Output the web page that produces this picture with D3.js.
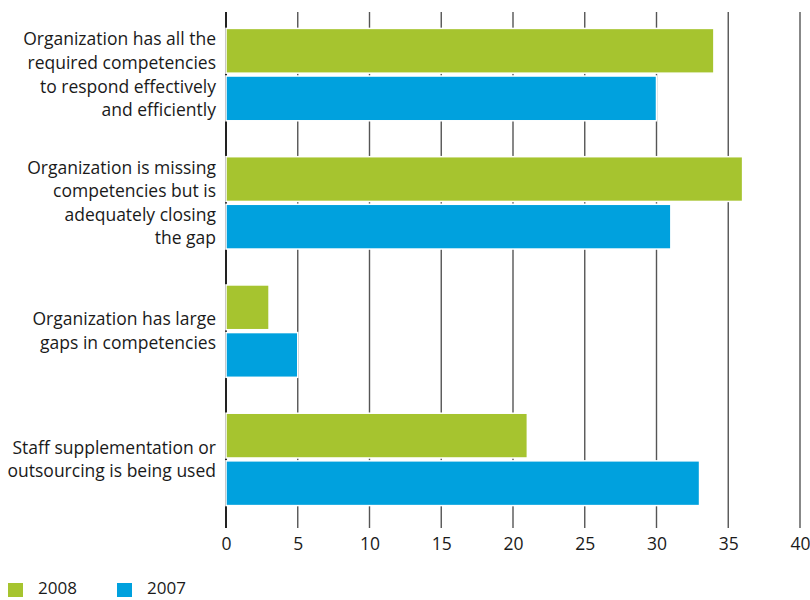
<!DOCTYPE html>
<html>
<head>
<meta charset="utf-8">
<script src="https://cdn.jsdelivr.net/npm/d3@7"></script>
<style>
  body { margin: 0; background: #fff; }
  svg text { font-family: "Open Sans", "Noto Sans", sans-serif; fill: #1a1a1a; }
</style>
</head>
<body>
<svg id="chart" width="810" height="600"></svg>
<script>
// Competency responses by year (percent)
const categories = [
  ["Organization has all the", "required competencies", "to respond effectively", "and efficiently"],
  ["Organization is missing", "competencies but is", "adequately closing", "the gap"],
  ["Organization has large", "gaps in competencies"],
  ["Staff supplementation or", "outsourcing is being used"]
];
const seriesNames = ["2008", "2007"];
const values2008 = [34, 36, 3, 21];
const values2007 = [30, 31, 5, 33];
const tickValues = [0, 5, 10, 15, 20, 25, 30, 35, 40];
const colors = ["#a6c42f", "#00a1de"];

const svg = d3.select("#chart");
const fontSize = "17.5px";

const x = d3.scaleLinear().domain([0, 40]).range([226, 800]);
const y0 = d3.scaleBand()
  .domain(d3.range(categories.length))
  .range([22, 512])
  .paddingInner(0.28)
  .paddingOuter(0.05);
const y1 = d3.scaleBand()
  .domain(seriesNames)
  .range([0, y0.bandwidth()])
  .paddingInner(0.06);

// vertical gridlines running down into the tick area
const axisBottom = 528;
svg.append("g")
  .selectAll("line")
  .data(tickValues)
  .join("line")
  .attr("x1", d => x(d)).attr("x2", d => x(d))
  .attr("y1", 12).attr("y2", axisBottom)
  .attr("stroke", d => d === 0 ? "#222" : "#555")
  .attr("stroke-width", d => d === 0 ? 2 : 1.4);

// bars
const rows = categories.map((c, i) => ({ i, vals: [values2008[i], values2007[i]] }));
const groups = svg.append("g")
  .selectAll("g")
  .data(rows)
  .join("g")
  .attr("transform", d => `translate(0,${y0(d.i)})`);

groups.selectAll("rect")
  .data(d => d.vals.map((v, k) => ({ v, k })))
  .join("rect")
  .attr("x", x(0))
  .attr("y", d => y1(seriesNames[d.k]))
  .attr("width", d => x(d.v) - x(0))
  .attr("height", y1.bandwidth())
  .attr("fill", d => colors[d.k])
  .attr("stroke", "#fff")
  .attr("stroke-width", 1.5);

// axis labels
const axis = d3.axisBottom(x).tickValues(tickValues).tickSize(0).tickPadding(0);
const ag = svg.append("g")
  .attr("transform", `translate(0,${axisBottom})`)
  .call(axis);
ag.select(".domain").remove();
ag.selectAll("text")
  .attr("dy", "0.71em")
  .attr("y", 10)
  .style("font-size", fontSize)
  .style("font-family", "'Open Sans', 'Noto Sans', sans-serif")
  .attr("fill", "#1a1a1a");

// category labels, right-aligned beside the bars
const lineH = 23.6;
svg.append("g")
  .selectAll("text")
  .data(categories)
  .join("text")
  .attr("text-anchor", "end")
  .attr("font-size", fontSize)
  .each(function (lines, i) {
    const cy = y0(i) + y0.bandwidth() / 2;
    const startY = cy - (lines.length - 1) * lineH / 2;
    d3.select(this).selectAll("tspan")
      .data(lines)
      .join("tspan")
      .attr("x", 216)
      .attr("y", (d, j) => startY + j * lineH)
      .attr("dy", "0.35em")
      .text(d => d);
  });

// legend
const legend = svg.append("g").attr("transform", "translate(8,583)");
const items = legend.selectAll("g")
  .data(seriesNames)
  .join("g")
  .attr("transform", (d, i) => `translate(${i * 109},0)`);
items.append("rect")
  .attr("width", 15).attr("height", 14)
  .attr("fill", (d, i) => colors[i]);
items.append("text")
  .attr("x", 30).attr("y", 5).attr("dy", "0.35em")
  .attr("font-size", "17px")
  .text(d => d);
</script>
</body>
</html>
